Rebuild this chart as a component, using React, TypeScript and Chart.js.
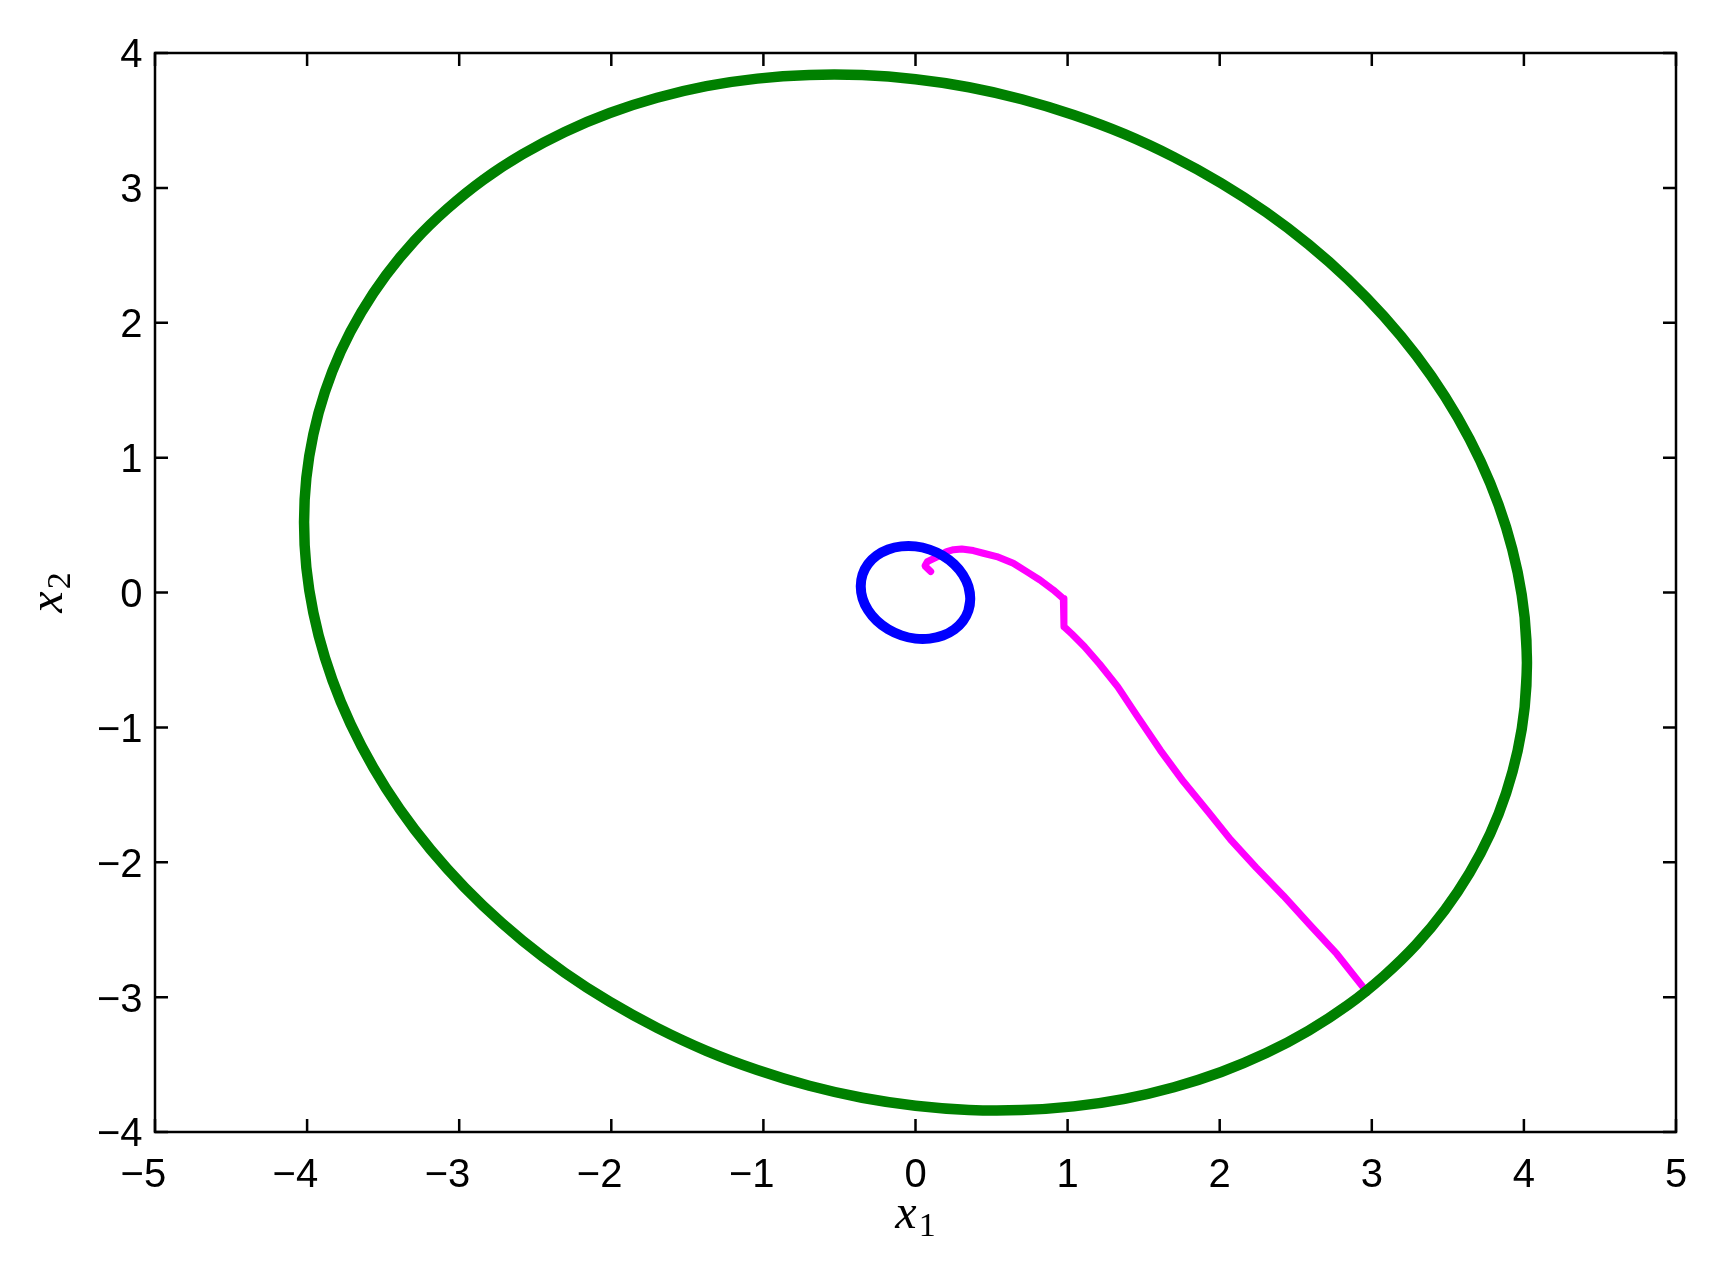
import { useEffect, useRef } from "react";
import { Chart, registerables } from "chart.js";

Chart.register(...registerables);

// Axis ticks and their labels
const X_TICKS = [-5, -4, -3, -2, -1, 0, 1, 2, 3, 4, 5];
const X_TICK_LABELS = ["−5", "−4", "−3", "−2", "−1", "0", "1", "2", "3", "4", "5"];
const Y_TICKS = [-4, -3, -2, -1, 0, 1, 2, 3, 4];
const Y_TICK_LABELS = ["−4", "−3", "−2", "−1", "0", "1", "2", "3", "4"];

// Green closed orbit (the ends overlap by one point so the loop closes smoothly)
const GREEN_X = [
  4.005,
  4.020, 4.005, 3.959, 3.883, 3.778, 3.643, 3.481, 3.293, 3.079, 2.843, 2.584, 2.306, 2.010, 1.699, 1.375, 1.040, 0.698, 0.351, 0,
  -0.351, -0.698, -1.040, -1.375, -1.699, -2.010, -2.306, -2.584, -2.843, -3.079, -3.293, -3.481, -3.643, -3.778, -3.883, -3.959, -4.005, -4.020,
  -4.005, -3.959, -3.883, -3.778, -3.643, -3.481, -3.293, -3.079, -2.843, -2.584, -2.306, -2.010, -1.699, -1.375, -1.040, -0.698, -0.351, 0,
  0.351, 0.698, 1.040, 1.375, 1.699, 2.010, 2.306, 2.584, 2.843, 3.079, 3.293, 3.481, 3.643, 3.778, 3.883, 3.959, 4.005, 4.020,
  4.005,
];
const GREEN_Y = [
  -0.850,
  -0.520, -0.186, 0.149, 0.483, 0.812, 1.137, 1.453, 1.757, 2.048, 2.323, 2.581, 2.819, 3.035, 3.228, 3.398, 3.540, 3.657, 3.746, 3.805,
  3.836, 3.837, 3.810, 3.754, 3.668, 3.555, 3.415, 3.249, 3.059, 2.844, 2.609, 2.353, 2.079, 1.790, 1.487, 1.173, 0.850, 0.520,
  0.186, -0.149, -0.483, -0.812, -1.137, -1.453, -1.757, -2.048, -2.323, -2.581, -2.819, -3.035, -3.228, -3.398, -3.540, -3.657, -3.746, -3.805,
  -3.836, -3.837, -3.810, -3.754, -3.668, -3.555, -3.415, -3.249, -3.059, -2.844, -2.609, -2.353, -2.079, -1.790, -1.487, -1.173, -0.850, -0.520,
  -0.186,
];

// Blue small loop near the origin (overlapping ends so the loop closes smoothly)
const BLUE_X = [0.348, 0.36, 0.348, 0.312, 0.255, 0.18, 0.093, 0, -0.093, -0.18, -0.255, -0.312, -0.348, -0.36, -0.348, -0.312, -0.255, -0.18, -0.093, 0, 0.093, 0.18, 0.255, 0.312, 0.348, 0.36, 0.348];
const BLUE_Y = [-0.133, -0.046, 0.044, 0.131, 0.209, 0.273, 0.318, 0.342, 0.342, 0.319, 0.274, 0.211, 0.133, 0.046, -0.044, -0.131, -0.209, -0.273, -0.318, -0.342, -0.342, -0.319, -0.274, -0.211, -0.133, -0.046, 0.044];

// Magenta trajectory
const MAGENTA_X = [0.100, 0.062, 0.078, 0.139, 0.205, 0.250, 0.304, 0.380, 0.446, 0.534, 0.643, 0.731, 0.818, 0.906, 0.972, 0.976, 1.030, 1.110, 1.210, 1.330, 1.460, 1.610, 1.760, 1.920, 2.070, 2.240, 2.420, 2.590, 2.770, 2.970];
const MAGENTA_Y = [0.155, 0.197, 0.229, 0.262, 0.303, 0.317, 0.323, 0.311, 0.291, 0.266, 0.217, 0.155, 0.093, 0.019, -0.045, -0.253, -0.310, -0.400, -0.530, -0.700, -0.920, -1.170, -1.400, -1.620, -1.830, -2.040, -2.250, -2.460, -2.680, -2.965];

const zip = (xs: number[], ys: number[]) => xs.map((x, i) => ({ x, y: ys[i] }));

const TICK_FONT_SIZE = 40;

const axesPlugin = {
  id: "matlabAxes",
  afterDraw(chart: any) {
    const { ctx, chartArea: a, scales } = chart;
    const xs = scales.x;
    const ys = scales.y;
    ctx.save();
    ctx.strokeStyle = "#000";
    ctx.lineWidth = 2.5;
    ctx.strokeRect(a.left, a.top, a.right - a.left, a.bottom - a.top);
    const TL = 13;
    ctx.beginPath();
    X_TICKS.forEach((v) => {
      const px = xs.getPixelForValue(v);
      ctx.moveTo(px, a.bottom);
      ctx.lineTo(px, a.bottom - TL);
      ctx.moveTo(px, a.top);
      ctx.lineTo(px, a.top + TL);
    });
    Y_TICKS.forEach((v) => {
      const py = ys.getPixelForValue(v);
      ctx.moveTo(a.left, py);
      ctx.lineTo(a.left + TL, py);
      ctx.moveTo(a.right, py);
      ctx.lineTo(a.right - TL, py);
    });
    ctx.stroke();

    ctx.fillStyle = "#000";
    ctx.font = `${TICK_FONT_SIZE}px 'Liberation Sans', Arial, sans-serif`;
    ctx.textBaseline = "alphabetic";
    X_TICK_LABELS.forEach((lab, i) => {
      const px = xs.getPixelForValue(X_TICKS[i]);
      const digits = lab.replace("−", "");
      const w = ctx.measureText(digits).width;
      ctx.textAlign = "right";
      ctx.fillText(lab, px + w / 2, a.bottom + 55);
    });
    Y_TICK_LABELS.forEach((lab, i) => {
      const py = ys.getPixelForValue(Y_TICKS[i]);
      ctx.textAlign = "right";
      ctx.fillText(lab, a.left - 12.5, py + 0.36 * TICK_FONT_SIZE);
    });

    // Axis labels: x_1 and x_2
    const mainFont = "italic 48px 'Liberation Serif', 'DejaVu Serif', serif";
    const subFont = "34px 'Liberation Serif', 'DejaVu Serif', serif";
    const drawLabel = (main: string, sub: string, cx: number, baseY: number) => {
      ctx.font = mainFont;
      const wm = ctx.measureText(main).width;
      ctx.font = subFont;
      const ws = ctx.measureText(sub).width;
      const total = wm + 2 + ws;
      const start = cx - total / 2;
      ctx.textAlign = "left";
      ctx.font = mainFont;
      ctx.fillText(main, start, baseY);
      ctx.font = subFont;
      ctx.fillText(sub, start + wm + 2, baseY + 8);
    };
    const cxMid = (a.left + a.right) / 2;
    drawLabel("x", "1", cxMid, 1228);

    ctx.save();
    ctx.translate(62, (a.top + a.bottom) / 2);
    ctx.rotate(-Math.PI / 2);
    drawLabel("x", "2", 0, 0);
    ctx.restore();

    ctx.restore();
  },
};

export default function App() {
  const canvasRef = useRef<HTMLCanvasElement | null>(null);

  useEffect(() => {
    document.body.style.margin = "0";
    const canvas = canvasRef.current;
    if (!canvas) return;
    const common = {
      showLine: true,
      pointRadius: 0,
      pointHoverRadius: 0,
      fill: false,
      borderJoinStyle: "round" as const,
      borderCapStyle: "round" as const,
    };
    const chart = new Chart(canvas, {
      type: "scatter",
      data: {
        datasets: [
          { ...common, label: "green", data: zip(GREEN_X, GREEN_Y), borderColor: "#008000", borderWidth: 10.5, tension: 0.33, capBezierPoints: false },
          { ...common, label: "blue", data: zip(BLUE_X, BLUE_Y), borderColor: "#0000ff", borderWidth: 10, tension: 0.33 },
          { ...common, label: "magenta", data: zip(MAGENTA_X, MAGENTA_Y), borderColor: "#ff00ff", borderWidth: 7, tension: 0 },
        ],
      },
      options: {
        animation: false,
        responsive: false,
        maintainAspectRatio: false,
        devicePixelRatio: 1,
        layout: { padding: { left: 155, top: 53, right: 46, bottom: 137 } },
        scales: {
          x: { type: "linear", min: -5, max: 5, display: false },
          y: { type: "linear", min: -4, max: 4, display: false },
        },
        plugins: {
          legend: { display: false },
          tooltip: { enabled: false },
        },
        events: [],
      },
      plugins: [axesPlugin],
    });
    return () => chart.destroy();
  }, []);

  return (
    <div style={{ position: "absolute", left: 0, top: 0, width: 1722, height: 1269, background: "#fff" }}>
      <canvas ref={canvasRef} width={1722} height={1269} style={{ width: 1722, height: 1269, display: "block" }} />
    </div>
  );
}
